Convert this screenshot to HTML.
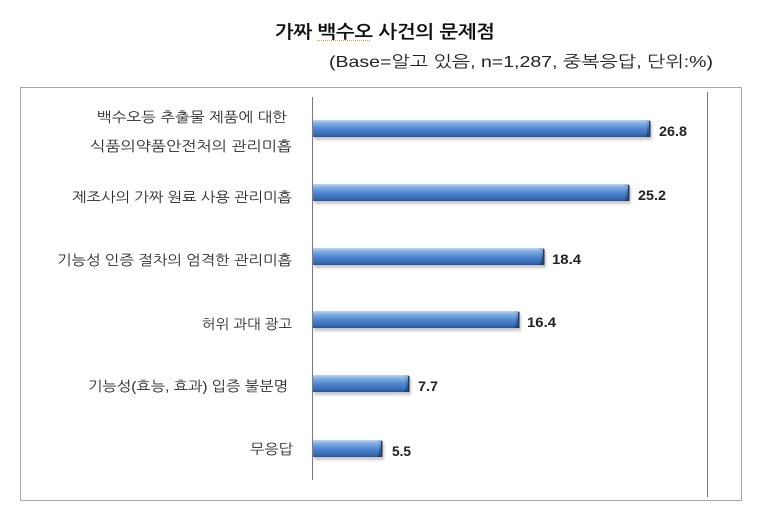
<!DOCTYPE html>
<html>
<head>
<meta charset="utf-8">
<style>
  html,body{margin:0;padding:0;background:#fff;}
  body{width:764px;height:521px;overflow:hidden;}
  svg{display:block;}
  .t{font-family:"Liberation Sans","NanumGothic","Noto Sans CJK KR",sans-serif;}
</style>
</head>
<body>
<svg width="764" height="521" viewBox="0 0 764 521" xmlns="http://www.w3.org/2000/svg">
  <defs>
    <linearGradient id="bg" x1="0" y1="0" x2="0" y2="1">
      <stop offset="0" stop-color="#bcd6f4"/>
      <stop offset="0.18" stop-color="#86b0e6"/>
      <stop offset="0.5" stop-color="#5289d3"/>
      <stop offset="0.85" stop-color="#386cb4"/>
      <stop offset="1" stop-color="#26518c"/>
    </linearGradient>
    <linearGradient id="cap" x1="0" y1="0" x2="0" y2="1">
      <stop offset="0" stop-color="#9fc0ea"/>
      <stop offset="0.5" stop-color="#3f6ea8"/>
      <stop offset="1" stop-color="#213f6a"/>
    </linearGradient>
    <filter id="sh" x="-5%" y="-50%" width="110%" height="200%">
      <feGaussianBlur stdDeviation="1.3"/>
    </filter>
  </defs>

  <!-- Title -->
  <text class="t" x="275" y="38" font-size="18" font-weight="bold" fill="#111" textLength="220" lengthAdjust="spacingAndGlyphs">가짜 백수오 사건의 문제점</text>
  <line x1="317" y1="40.5" x2="371" y2="40.5" stroke="#e0a040" stroke-width="1" stroke-dasharray="1,1"/>
  <!-- Subtitle -->
  <text class="t" x="329" y="67" font-size="16" fill="#222" textLength="384" lengthAdjust="spacingAndGlyphs">(Base=알고 있음, n=1,287, 중복응답, 단위:%)</text>

  <!-- Box -->
  <rect x="20.5" y="87.5" width="721" height="413" fill="none" stroke="#a8a8a8" stroke-width="1"/>
  <line x1="707.5" y1="92" x2="707.5" y2="497" stroke="#7a7a7a" stroke-width="1"/>
  <line x1="312.5" y1="97" x2="312.5" y2="480" stroke="#7a7a7a" stroke-width="1"/>

  <!-- Category labels -->
  <g class="t" font-size="14" fill="#2a2a2a">
    <text x="97" y="122" textLength="190" lengthAdjust="spacingAndGlyphs">백수오등 추출물 제품에 대한</text>
    <text x="90" y="151" textLength="202" lengthAdjust="spacingAndGlyphs">식품의약품안전처의 관리미흡</text>
    <text x="72" y="202" textLength="220" lengthAdjust="spacingAndGlyphs">제조사의 가짜 원료 사용 관리미흡</text>
    <text x="57" y="265" textLength="235" lengthAdjust="spacingAndGlyphs">기능성 인증 절차의 엄격한 관리미흡</text>
    <text x="202" y="329" textLength="90" lengthAdjust="spacingAndGlyphs">허위 과대 광고</text>
    <text x="88" y="391" textLength="200" lengthAdjust="spacingAndGlyphs">기능성(효능, 효과) 입증 불분명</text>
    <text x="250" y="454" textLength="43" lengthAdjust="spacingAndGlyphs">무응답</text>
  </g>

  <!-- Bars -->
  <g>
    <g fill="#9a9a9a" opacity="0.55" filter="url(#sh)">
      <rect x="314" y="123" width="338" height="17"/>
      <rect x="314" y="187" width="317" height="17"/>
      <rect x="314" y="251" width="232" height="17"/>
      <rect x="314" y="314" width="207" height="17"/>
      <rect x="314" y="378" width="97" height="17"/>
      <rect x="314" y="443" width="70" height="17"/>
    </g>
    <rect x="313" y="120" width="337" height="17" fill="url(#bg)"/>
    <rect x="313" y="184" width="316" height="17" fill="url(#bg)"/>
    <rect x="313" y="248" width="231" height="17" fill="url(#bg)"/>
    <rect x="313" y="311" width="206" height="17" fill="url(#bg)"/>
    <rect x="313" y="375" width="96" height="17" fill="url(#bg)"/>
    <rect x="313" y="440" width="69" height="17" fill="url(#bg)"/>
    <g fill="url(#cap)">
      <polygon points="645,120 650,120 650,137 645,137 647,133 647,124"/>
      <polygon points="624,184 629,184 629,201 624,201 626,197 626,188"/>
      <polygon points="539,248 544,248 544,265 539,265 541,261 541,252"/>
      <polygon points="514,311 519,311 519,328 514,328 516,324 516,315"/>
      <polygon points="404,375 409,375 409,392 404,392 406,388 406,379"/>
      <polygon points="377,440 382,440 382,457 377,457 379,453 379,444"/>
    </g>
    <g fill="#1f3a60">
      <rect x="649" y="121" width="1.5" height="16"/>
      <rect x="628" y="185" width="1.5" height="16"/>
      <rect x="543" y="249" width="1.5" height="16"/>
      <rect x="518" y="312" width="1.5" height="16"/>
      <rect x="408" y="376" width="1.5" height="16"/>
      <rect x="381" y="441" width="1.5" height="16"/>
    </g>
  </g>

  <!-- Value labels -->
  <g class="t" font-size="14" font-weight="bold" fill="#222">
    <text x="659" y="136" textLength="28" lengthAdjust="spacingAndGlyphs">26.8</text>
    <text x="638" y="200" textLength="28" lengthAdjust="spacingAndGlyphs">25.2</text>
    <text x="552" y="264" textLength="29" lengthAdjust="spacingAndGlyphs">18.4</text>
    <text x="527" y="327" textLength="29" lengthAdjust="spacingAndGlyphs">16.4</text>
    <text x="418" y="391" textLength="20" lengthAdjust="spacingAndGlyphs">7.7</text>
    <text x="392" y="456" textLength="19" lengthAdjust="spacingAndGlyphs">5.5</text>
  </g>
</svg>
</body>
</html>
